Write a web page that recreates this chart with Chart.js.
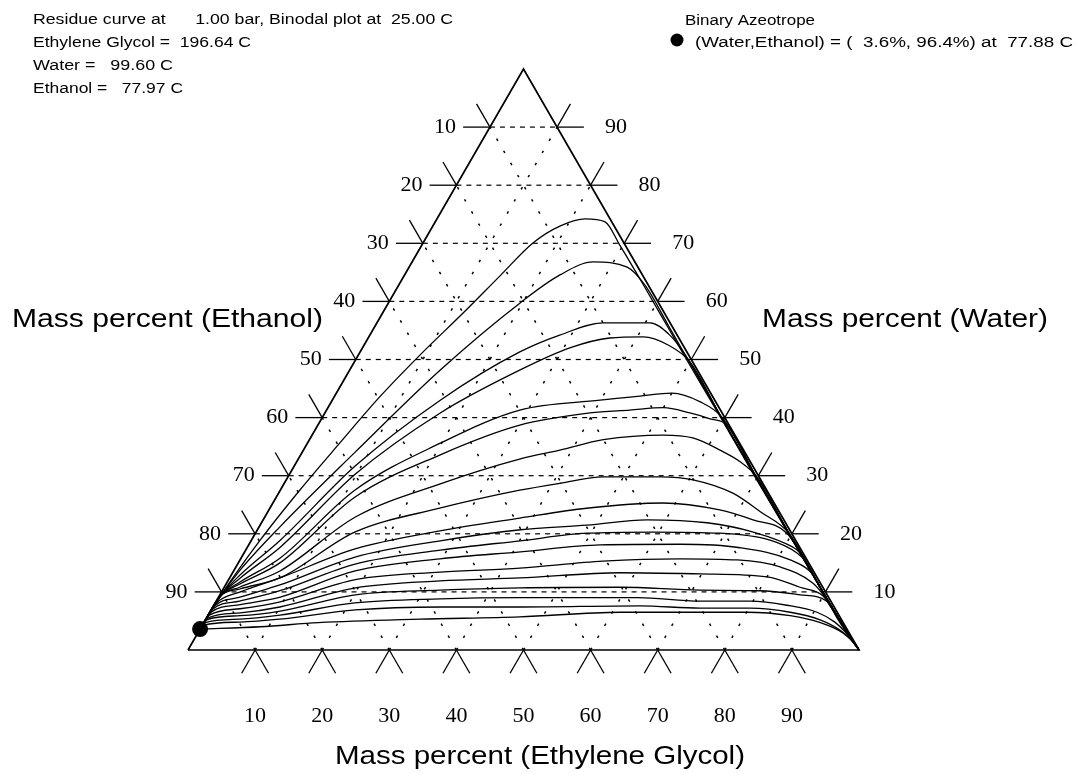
<!DOCTYPE html>
<html>
<head>
<meta charset="utf-8">
<script src="https://cdn.jsdelivr.net/npm/chart.js@4.4.1/dist/chart.umd.min.js"></script>
<style>
html,body{margin:0;padding:0;background:#fff;overflow:hidden}
canvas{display:block}
</style>
</head>
<body>
<canvas id="c" width="1078" height="774"></canvas>
<script>
// ---------------- DATA (mass percent) ----------------
const glycolTicks  = [10, 20, 30, 40, 50, 60, 70, 80, 90];
const waterTicks   = [10, 20, 30, 40, 50, 60, 70, 80, 90];
const ethanolTicks = [10, 20, 30, 40, 50, 60, 70, 80, 90];

// azeotrope composition (water, ethanol)
const azeotropeWater = 3.6;
const azeotropeEthanol = 96.4;

const headerLines = [
  'Residue curve at      1.00 bar, Binodal plot at  25.00 C',
  'Ethylene Glycol =  196.64 C',
  'Water =   99.60 C',
  'Ethanol =   77.97 C'
];
const legendTitle = 'Binary Azeotrope';
const legendText = '(Water,Ethanol) = (  3.6%, 96.4%) at  77.88 C';

// residue curves: [Ethylene Glycol %, Water %]
const curve01 = [[0,3.6],[0.2,9.3],[1.3,18.9],[2.9,27.5],[4.8,35.6],[6.8,43.6],[9.2,50.8],[12.0,58.0],[14.3,64.4],[16.4,70.1],[19.0,73.0],[22.1,74.2],[25.3,73.7],[29.5,69.7],[36.9,62.4],[44.3,55.0],[49.3,50.0],[59.4,40.0],[69.4,30.0],[79.5,20.0],[89.6,10.0],[94.7,5.0],[100,0]];
const curve02 = [[0,3.6],[0.2,9.3],[0.9,13.8],[3.1,21.2],[7.9,34.1],[13.5,48.2],[19.6,59.7],[23.2,64.6],[27.0,66.8],[32.5,65.9],[36.7,62.8],[44.5,55.0],[49.5,50.0],[59.5,40.0],[69.5,30.0],[79.6,20.0],[89.6,10.0],[94.7,5.0],[100,0]];
const curve03 = [[0,3.6],[0.2,9.3],[1.3,12.9],[4.3,18.9],[9.1,31.7],[16.1,43.0],[23.8,51.3],[28.3,54.2],[33.7,56.3],[40.7,56.3],[44.7,54.2],[48.7,50.8],[59.5,40.0],[69.5,30.0],[79.6,20.0],[89.6,10.0],[94.7,5.0],[100,0]];
const curve04 = [[0,3.6],[0.2,9.3],[1.6,12.4],[4.9,17.7],[9.8,30.3],[17.2,40.8],[25.4,48.2],[30.9,52.0],[36.0,53.7],[40.9,53.9],[45.3,52.5],[50.0,49.6],[59.5,40.0],[69.5,30.0],[79.6,20.0],[89.6,10.0],[94.7,5.0],[100,0]];
const curve05 = [[0,3.6],[0.2,9.3],[1.9,11.7],[5.8,15.8],[11.1,27.5],[19.8,35.6],[28.8,41.3],[39.9,43.0],[45.5,43.7],[50.0,44.2],[55.0,42.7],[59.5,40.1],[69.6,30.0],[79.6,20.0],[89.6,10.0],[94.7,5.0],[100,0]];
const curve06 = [[0,3.6],[0.2,9.3],[2.1,11.4],[6.2,15.0],[11.7,26.3],[20.8,33.6],[30.1,38.7],[39.5,40.8],[45.2,41.3],[50.0,41.7],[54.4,40.8],[57.9,39.8],[61.0,38.7],[69.6,30.0],[79.6,20.0],[89.6,10.0],[94.7,5.0],[100,0]];
const curve07 = [[0,3.6],[0.2,9.3],[2.3,10.8],[6.9,13.6],[13.5,22.9],[23.3,28.6],[33.1,32.9],[38.2,34.4],[43.8,36.2],[52.3,37.0],[57.0,36.5],[62.1,34.4],[66.1,32.4],[69.9,29.8],[79.6,20.0],[89.6,10.0],[94.7,5.0],[100,0]];
const curve08 = [[0,3.6],[0.2,9.3],[2.5,10.5],[7.5,12.4],[14.7,20.3],[25.3,24.4],[35.7,27.5],[41.1,28.7],[47.0,29.8],[55.5,29.8],[60.6,29.3],[67.7,27.0],[73.4,23.8],[79.5,20.1],[89.6,10.0],[94.7,5.0],[100,0]];
const curve09 = [[0,3.6],[0.2,8.1],[2.8,10.0],[7.5,12.4],[16.2,17.4],[27.3,20.5],[38.1,22.7],[47.2,24.4],[58.1,25.3],[67.2,24.1],[73.0,22.4],[79.2,20.1],[89.6,10.0],[94.7,5.0],[100,0]];
const curve10 = [[0,3.6],[0.2,7.6],[3.2,9.1],[8.1,11.2],[16.9,16.0],[28.2,18.8],[39.2,20.7],[48.7,21.5],[57.2,22.4],[66.4,21.9],[74.1,20.3],[81.3,17.7],[82.6,16.9],[89.6,10.0],[94.7,5.0],[100,0]];
const curve11 = [[0,3.6],[0.2,7.1],[3.5,8.4],[8.6,10.2],[17.5,14.8],[29.0,17.2],[40.1,18.8],[49.4,20.1],[59.2,20.3],[69.2,20.1],[77.3,18.9],[82.4,16.7],[84.5,15.2],[89.6,10.0],[94.7,5.0],[100,0]];
const curve12 = [[0,3.6],[0.2,6.5],[3.9,7.8],[9.2,9.1],[18.1,13.6],[29.7,15.7],[41.1,16.9],[52.4,18.1],[64.2,18.2],[73.5,17.6],[82.0,15.5],[86.5,13.1],[89.6,10.0],[94.7,5.0],[100,0]];
const curve13 = [[0,3.6],[0.2,6.0],[4.2,7.1],[9.6,8.3],[18.9,12.1],[30.9,13.4],[42.4,14.1],[54.2,15.3],[65.5,15.7],[74.1,15.5],[81.1,14.3],[87.4,11.5],[90.5,9.0],[94.6,5.0],[100,0]];
const curve14 = [[0,3.6],[0.2,5.5],[4.6,6.4],[10.0,7.4],[19.6,10.7],[31.6,11.9],[43.3,12.4],[57.8,13.3],[69.8,13.1],[80.0,12.6],[85.8,10.8],[90.0,9.3],[92.3,7.2],[95.6,4.0],[100,0]];
const curve15 = [[0,3.6],[0.2,5.2],[4.8,5.9],[10.4,6.7],[20.2,9.5],[32.4,10.3],[44.1,10.7],[59.0,10.8],[71.1,10.3],[80.2,10.2],[86.5,9.5],[91.0,8.4],[94.0,5.5],[97.2,2.5],[100,0]];
const curve16 = [[0,3.6],[0.2,4.7],[5.1,5.3],[10.7,6.0],[20.8,8.1],[33.2,8.8],[45.0,9.0],[62.5,9.0],[72.1,8.4],[79.6,8.4],[85.4,7.7],[90.5,6.5],[94.0,4.8],[96.4,3.1],[100,0]];
const curve17 = [[0,3.6],[0.2,4.3],[5.3,4.8],[11.0,5.3],[21.5,6.9],[33.9,7.4],[45.8,7.4],[63.6,7.6],[72.7,7.2],[80.2,7.2],[86.5,6.5],[91.6,5.2],[95.5,3.4],[98.0,1.7],[100,0]];
const curve18 = [[0,3.6],[8.8,4.0],[17.1,4.7],[31.9,5.3],[46.6,5.7],[61.1,6.5],[80.0,6.5],[86.8,5.9],[91.9,4.7],[96.2,2.9],[98.4,1.4],[100,0]];

const residueCurves = [curve01, curve02, curve03, curve04, curve05, curve06, curve07, curve08, curve09,
  curve10, curve11, curve12, curve13, curve14, curve15, curve16, curve17, curve18];

// ---------------- GEOMETRY ----------------
// ternary (glycol %, water %) -> cartesian data units
const toXY = (g, w) => ({ x: g + w / 2, y: w });
const TICK_LEN = 4;

function lineDS(points, opts) {
  return Object.assign({
    data: points.map(p => toXY(p[0], p[1])),
    showLine: true, borderColor: '#000', backgroundColor: '#000',
    borderWidth: 1, pointRadius: 0, pointHoverRadius: 0,
    fill: false, tension: 0
  }, opts || {});
}

const datasets = [];

// residue curves
residueCurves.forEach(c => datasets.push(lineDS(c, { borderWidth: 1.3, cubicInterpolationMode: 'monotone' })));

// horizontal (constant water) dashed grid lines
waterTicks.forEach(w => datasets.push(lineDS([[0, w], [100 - w, w]], { borderDash: [5, 5], borderWidth: 1.2 })));
// constant glycol dotted lines
glycolTicks.forEach(g => datasets.push(lineDS([[g, 0], [g, 100 - g]], { borderDash: [2.5, 11.5], borderWidth: 1.5 })));
// constant ethanol dotted lines
ethanolTicks.forEach(e => datasets.push(lineDS([[100 - e, 0], [0, 100 - e]], { borderDash: [2.5, 11.5], borderWidth: 1.5 })));

// tick marks
const L = TICK_LEN;
ethanolTicks.forEach(e => {
  const w = 100 - e;
  datasets.push(lineDS([[0, w], [-L, w]], { borderWidth: 1.3 }));
  datasets.push(lineDS([[0, w], [-L, w + L]], { borderWidth: 1.3 }));
});
waterTicks.forEach(w => {
  datasets.push(lineDS([[100 - w, w], [100 - w + L, w]], { borderWidth: 1.3 }));
  datasets.push(lineDS([[100 - w, w], [100 - w, w + L]], { borderWidth: 1.3 }));
});
glycolTicks.forEach(g => {
  datasets.push(lineDS([[g, 0], [g, -L]], { borderWidth: 1.3 }));
  datasets.push(lineDS([[g, 0], [g + L, -L]], { borderWidth: 1.3 }));
});

// triangle
datasets.push(lineDS([[0, 0], [100, 0], [0, 100], [0, 0]], { borderWidth: 1.7 }));

// azeotrope point
datasets.push({
  data: [toXY(0, azeotropeWater)], showLine: false,
  pointRadius: 8, pointHoverRadius: 8, pointBackgroundColor: '#000', pointBorderColor: '#000', pointBorderWidth: 0
});

// ---------------- TEXT PLUGIN ----------------
function fitText(ctx, text, left, cy, width, font) {
  ctx.font = font;
  const m = ctx.measureText(text).width;
  ctx.save();
  ctx.translate(left, cy);
  ctx.scale(width / m, 1);
  ctx.textAlign = 'left';
  ctx.textBaseline = 'middle';
  ctx.fillText(text, 0, 0);
  ctx.restore();
}

const textPlugin = {
  id: 'ternaryText',
  afterDraw(chart) {
    const ctx = chart.ctx;
    const xs = chart.scales.x, ys = chart.scales.y;
    const P = (g, w) => [xs.getPixelForValue(g + w / 2), ys.getPixelForValue(w)];
    ctx.save();
    ctx.fillStyle = '#000';
    ctx.textBaseline = 'middle';
    ctx.font = '22px "Liberation Serif"';
    ethanolTicks.forEach(e => {
      const [px, py] = P(0, 100 - e);
      ctx.textAlign = 'right';
      ctx.fillText(String(e), px - 34, py);
    });
    waterTicks.forEach(w => {
      const [px, py] = P(100 - w, w);
      ctx.textAlign = 'left';
      ctx.fillText(String(w), px + 48, py);
    });
    glycolTicks.forEach(g => {
      const [px, py] = P(g, 0);
      ctx.textAlign = 'center';
      ctx.fillText(String(g), px, py + 66);
    });

    // axis titles
    const tf = '25px "Liberation Sans"';
    fitText(ctx, 'Mass percent (Ethanol)', 12, 320, 311, tf);
    fitText(ctx, 'Mass percent (Water)', 762, 320, 286, tf);
    fitText(ctx, 'Mass percent (Ethylene Glycol)', 335, 757, 410, tf);

    // header
    const hf = '14px "Liberation Sans"';
    const hw = [420, 218, 140, 150];
    headerLines.forEach((t, i) => fitText(ctx, t, 33, 20 + i * 23, hw[i], hf));
    fitText(ctx, legendTitle, 685, 21, 130, hf);
    fitText(ctx, legendText, 695, 43, 378, hf);
    ctx.beginPath();
    ctx.arc(677, 40, 6.5, 0, Math.PI * 2);
    ctx.fill();
    ctx.restore();
  }
};

// ---------------- CHART ----------------
// scale ranges chosen so the chart area spans the whole canvas
const PX_PER_UNIT_X = 6.71, PX_PER_UNIT_Y = 5.81;
const ORIGIN_PX = 188, ORIGIN_PY = 650;
const XMIN = -ORIGIN_PX / PX_PER_UNIT_X, XMAX = XMIN + 1078 / PX_PER_UNIT_X;
const YMIN = -(774 - ORIGIN_PY) / PX_PER_UNIT_Y, YMAX = YMIN + 774 / PX_PER_UNIT_Y;

new Chart(document.getElementById('c'), {
  type: 'scatter',
  data: { datasets },
  options: {
    responsive: false,
    animation: false,
    devicePixelRatio: 1,
    layout: { padding: 0, autoPadding: false },
    plugins: { legend: { display: false }, tooltip: { enabled: false } },
    events: [],
    scales: {
      x: { type: 'linear', min: XMIN, max: XMAX, display: false },
      y: { type: 'linear', min: YMIN, max: YMAX, display: false }
    }
  },
  plugins: [textPlugin]
});
</script>
</body>
</html>
